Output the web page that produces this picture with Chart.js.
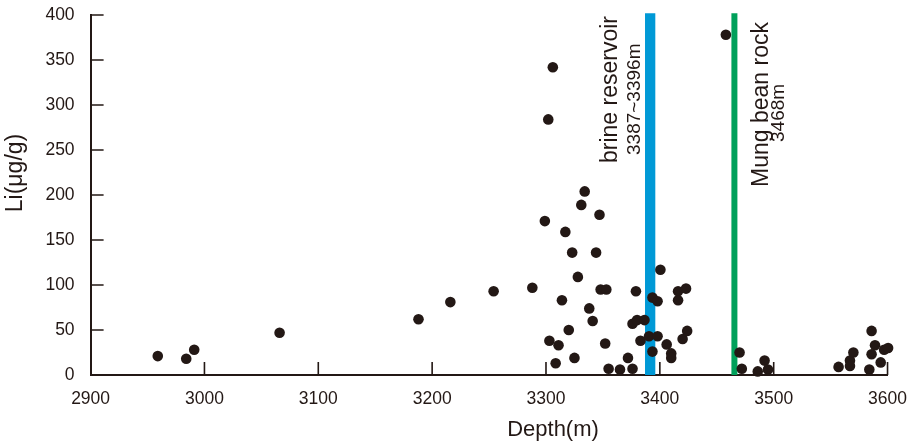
<!DOCTYPE html>
<html>
<head>
<meta charset="utf-8">
<script src="https://cdn.jsdelivr.net/npm/chart.js@4/dist/chart.umd.min.js"></script>
<style>
  html, body { margin: 0; padding: 0; background: #fff; }
  #wrap { width: 921px; height: 445px; }
</style>
</head>
<body>
<div id="wrap"><canvas id="li_depth_chart"></canvas></div>
<script>
// Samples: depth (m) and Li content (ug/g)
const depth = [
  2959, 2984, 2991, 3066, 3188, 3216, 3254, 3288,
  3299, 3302, 3306, 3303, 3311, 3308.5, 3314, 3317, 3320, 3323, 3325, 3328,
  3331, 3334, 3338, 3341, 3344, 3347, 3348, 3353, 3352, 3355, 3365, 3372,
  3376, 3376, 3379, 3380, 3383, 3386.5, 3390.5, 3393.5, 3393.5, 3398, 3398,
  3400.5, 3406, 3410, 3410, 3416, 3416, 3420, 3424, 3423,
  3458, 3470, 3472, 3486, 3492, 3495,
  3557, 3567, 3567, 3570, 3584, 3586, 3589, 3586, 3594, 3597, 3600.5
];
const li = [
  21, 18, 28, 47, 62, 81, 93, 97,
  171, 284, 342, 38, 33, 13, 83, 159, 50, 136, 19, 109,
  189, 204, 74, 60, 136, 178, 95, 95, 35, 7, 6, 19,
  57, 7, 93, 61, 38, 61, 43, 86, 26, 82, 43,
  117, 34, 24, 19, 93, 83, 40, 49, 96,
  378, 25, 7, 4, 16, 6,
  9, 16, 10, 25, 6, 49, 33, 23, 14, 28, 30
];

// Marker intervals
const brineRange = [3387, 3396];
const mungDepth = 3465.5;
const markTop = 402;

const xTicks = [2900, 3000, 3100, 3200, 3300, 3400, 3500, 3600];
const yTicks = [0, 50, 100, 150, 200, 250, 300, 350, 400];

const INK = "#231815";
const FONT = "'Liberation Sans', Arial, sans-serif";

// inward tick marks, like the original figure
const inwardTicks = {
  id: "inwardTicks",
  beforeDatasetsDraw(chart) {
    const ctx = chart.ctx;
    const xs = chart.scales.x;
    const ys = chart.scales.y;
    ctx.save();
    ctx.strokeStyle = INK;
    ctx.lineWidth = 1.6;
    ctx.beginPath();
    xTicks.forEach((v) => {
      if (v === xs.min) return;
      const px = xs.getPixelForValue(v);
      ctx.moveTo(px, ys.bottom);
      ctx.lineTo(px, ys.bottom - 13);
    });
    yTicks.forEach((v) => {
      if (v === ys.min) return;
      const py = ys.getPixelForValue(v);
      ctx.moveTo(xs.left, py);
      ctx.lineTo(xs.left + 13, py);
    });
    ctx.stroke();
    ctx.restore();
  },
};

// axis titles and the two rotated marker labels
const labels = {
  id: "labels",
  afterDraw(chart) {
    const ctx = chart.ctx;
    ctx.save();
    ctx.fillStyle = INK;

    ctx.font = "22px " + FONT;
    ctx.textAlign = "center";
    ctx.textBaseline = "middle";
    ctx.fillText("Depth(m)", 553, 430);

    const rotated = (text, x, y, size) => {
      ctx.save();
      ctx.translate(x, y);
      ctx.rotate(-Math.PI / 2);
      ctx.font = size + "px " + FONT;
      ctx.textAlign = "left";
      ctx.textBaseline = "alphabetic";
      ctx.fillText(text, 0, 0);
      ctx.restore();
    };

    ctx.save();
    ctx.translate(16, 173);
    ctx.rotate(-Math.PI / 2);
    ctx.font = "23px " + FONT;
    ctx.textAlign = "center";
    ctx.textBaseline = "middle";
    ctx.fillText("Li(\u03bcg/g)", 0, 0);
    ctx.restore();

    rotated("brine reservoir", 617, 163, 23);
    rotated("3387~3396m", 640, 155, 19);
    rotated("Mung bean rock", 768, 187, 23);
    rotated("3468m", 784, 142, 19);

    ctx.restore();
  },
};

const brineMid = (brineRange[0] + brineRange[1]) / 2;

const chart = new Chart(document.getElementById("li_depth_chart").getContext("2d"), {
  type: "scatter",
  data: {
    datasets: [
      {
        label: "Li",
        data: depth.map((d, i) => ({ x: d, y: li[i] })),
        backgroundColor: INK,
        borderWidth: 0,
        pointRadius: 5.3,
        clip: false,
      },
      {
        label: "brine reservoir",
        type: "line",
        data: [{ x: brineMid, y: 0 }, { x: brineMid, y: markTop }],
        borderColor: "#0099d6",
        borderWidth: 10.3,
        borderCapStyle: "butt",
        pointRadius: 0,
        clip: false,
      },
      {
        label: "Mung bean rock",
        type: "line",
        data: [{ x: mungDepth, y: 0 }, { x: mungDepth, y: markTop }],
        borderColor: "#00a05a",
        borderWidth: 6,
        borderCapStyle: "butt",
        pointRadius: 0,
        clip: false,
      },
    ],
  },
  options: {
    responsive: true,
    maintainAspectRatio: false,
    animation: false,
    layout: { padding: { left: 0, right: 31.5, top: 15, bottom: 0 } },
    plugins: {
      legend: { display: false },
      tooltip: { enabled: false },
    },
    scales: {
      x: {
        type: "linear",
        min: 2900,
        max: 3600,
        afterBuildTicks: (scale) => { scale.ticks = xTicks.map((v) => ({ value: v })); },
        afterFit: (scale) => { scale.height = 70; },
        grid: { display: false, drawTicks: false },
        border: { display: true, color: INK, width: 2 },
        ticks: {
          color: INK,
          padding: 14,
          font: { family: FONT, size: 17.5 },
          callback: (v) => String(v),
        },
      },
      y: {
        min: 0,
        max: 400,
        afterBuildTicks: (scale) => { scale.ticks = yTicks.map((v) => ({ value: v })); },
        afterFit: (scale) => {
          scale.width = 90.6;
          scale.paddingTop = 0;
          scale.paddingBottom = 0;
        },
        grid: { display: false, drawTicks: false },
        border: { display: true, color: INK, width: 2 },
        ticks: {
          color: INK,
          padding: 16,
          font: { family: FONT, size: 17.5 },
          callback: (v) => String(v),
        },
      },
    },
  },
  plugins: [inwardTicks, labels],
});
</script>
</body>
</html>
